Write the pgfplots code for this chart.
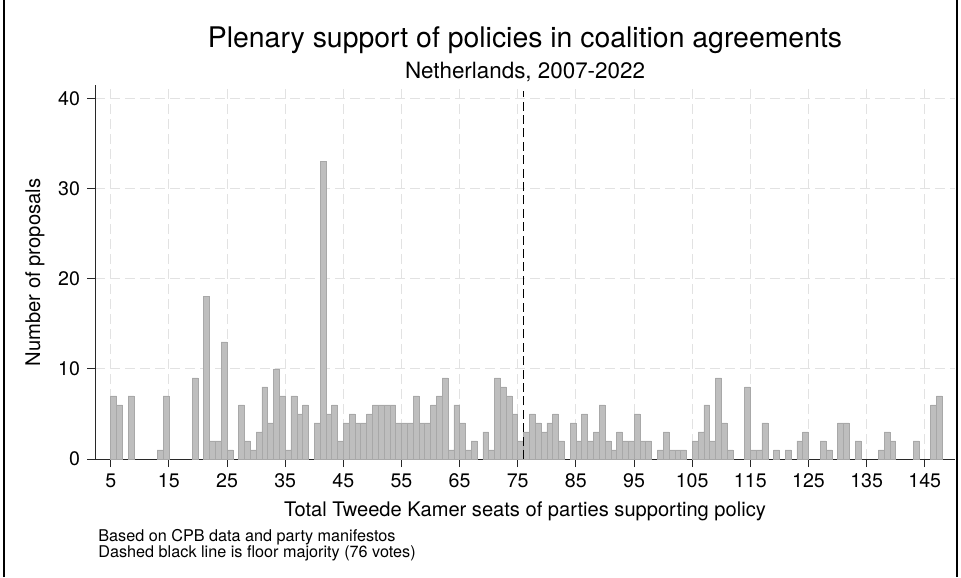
\documentclass[border=0pt]{standalone}
\usepackage{pgfplots}
\pgfplotsset{compat=1.18}
\usepackage{fontspec}
\setmainfont{TeX Gyre Heros}
\definecolor{barfill}{RGB}{190,190,190}
\definecolor{baredge}{RGB}{168,168,168}
\definecolor{gridc}{RGB}{226,226,226}
\definecolor{axc}{RGB}{40,40,40}
\begin{document}
\begin{tikzpicture}[x=1bp,y=1bp]
\useasboundingbox (0,0) rectangle (480.5,288.5);
\draw[line width=0.6bp, black] (2,0) -- (2,288.5);
\draw[line width=0.6bp, black] (478.5,0) -- (478.5,288.5);
\begin{axis}[
  at={(47.5bp,59bp)}, anchor=south west,
  scale only axis, width=430bp, height=187bp,
  xmin=2.3, xmax=150.2, ymin=0, ymax=41.47,
  axis x line*=bottom, axis y line*=left,
  axis line style={-, line width=0.5bp, axc},
  xtick={5,15,...,145}, ytick={0,10,...,40},
  tick align=outside,
  major tick length=4bp,
  tick style={line width=0.5bp, axc},
  grid=major,
  major grid style={gridc, dash pattern=on 5bp off 2.5bp, line width=0.5bp},
  ticklabel style={font=\fontsize{9.8bp}{12bp}\selectfont},
  /pgf/number format/assume math mode=true,
  clip=false,
]
\addplot[ybar, bar width=1, bar shift=0, fill=barfill, draw=baredge, line width=0.25bp] coordinates {
(5.5,7) (6.5,6) (8.5,7) (13.5,1) (14.5,7) (19.5,9) (21.5,18) (22.5,2) (23.5,2) (24.5,13) (25.5,1)
(27.5,6) (28.5,2) (29.5,1) (30.5,3) (31.5,8) (32.5,4) (33.5,10) (34.5,7) (35.5,1) (36.5,7) (37.5,5) (38.5,6)
(40.5,4) (41.5,33) (42.5,5) (43.5,6) (44.5,2) (45.5,4) (46.5,5) (47.5,4) (48.5,4) (49.5,5) (50.5,6)
(51.5,6) (52.5,6) (53.5,6) (54.5,4) (55.5,4) (56.5,4) (57.5,7) (58.5,4) (59.5,4) (60.5,6) (61.5,7)
(62.5,9) (63.5,1) (64.5,6) (65.5,4) (66.5,1) (67.5,2) (69.5,3) (70.5,1) (71.5,9) (72.5,8) (73.5,7)
(74.5,5) (75.5,2) (76.5,3) (77.5,5) (78.5,4) (79.5,3) (80.5,4) (81.5,5) (82.5,2) (84.5,4) (85.5,2)
(86.5,5) (87.5,2) (88.5,3) (89.5,6) (90.5,2) (91.5,1) (92.5,3) (93.5,2) (94.5,2) (95.5,5) (96.5,2)
(97.5,2) (99.5,1) (100.5,3) (101.5,1) (102.5,1) (103.5,1) (105.5,2) (106.5,3) (107.5,6) (108.5,2)
(109.5,9) (110.5,4) (111.5,1) (114.5,8) (115.5,1) (116.5,1) (117.5,4) (119.5,1) (121.5,1) (123.5,2)
(124.5,3) (127.5,2) (128.5,1) (130.5,4) (131.5,4) (133.5,2) (137.5,1) (138.5,3) (139.5,2) (143.5,2)
(146.5,6) (147.5,7)
};
\addplot[black, line width=0.9bp, dash pattern=on 4.5bp off 2.2bp] coordinates {(76,0) (76,40.8)};
\end{axis}
\node[anchor=base, font=\fontsize{14.2bp}{17bp}\selectfont] at (262.5,265) {Plenary support of policies in coalition agreements};
\node[anchor=base, font=\fontsize{11.2bp}{13bp}\selectfont] at (262.5,249.5) {Netherlands, 2007-2022};
\node[anchor=base, rotate=90, font=\fontsize{10.1bp}{12bp}\selectfont] at (20,152.25) {Number of proposals};
\node[anchor=base, font=\fontsize{10.05bp}{12bp}\selectfont] at (262.5,30.5) {Total Tweede Kamer seats of parties supporting policy};
\node[anchor=base west, inner sep=0pt, font=\fontsize{8.1bp}{10bp}\selectfont] at (49,18) {Based on CPB data and party manifestos};
\node[anchor=base west, inner sep=0pt, font=\fontsize{8.1bp}{10bp}\selectfont] at (49,10) {Dashed black line is floor majority (76 votes)};
\end{tikzpicture}
\end{document}
